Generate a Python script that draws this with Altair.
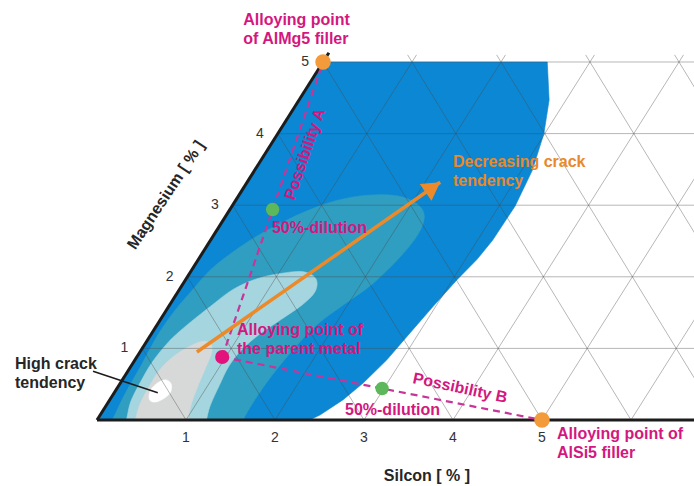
import altair as alt
import pandas as pd

# Skewed composition diagram: Si runs horizontally, Mg along an inclined axis.
SKEW = 45.2 / 89.0            # horizontal shift per 1 % Mg, in % Si units
X_DOMAIN = [-1.09, 6.708]
Y_DOMAIN = [-0.922, 5.866]

FONT = "Liberation Sans"
PINK = "#d4177f"
ORANGE = "#e8892c"
DARK = "#262626"

# ---- crack-sensitivity zones, outlines in (Si %, Mg %) ----
blue_si = [0.0, 0.0, 2.52, 2.81, 2.99, 3.12, 3.18, 3.17, 3.13, 3.05, 2.97, 2.90, 2.83, 2.73, 2.62, 2.47, 2.39]
blue_mg = [0.0, 5.0, 5.0, 4.47, 4.0, 3.49, 2.99, 2.51, 2.24, 1.96, 1.58, 1.22, 0.84, 0.52, 0.28, 0.07, 0.0]

teal_si = [0.16, 0.17, 0.13, 0.11, 0.08, 0.10, 0.15, 0.21, 0.35, 0.53, 0.82, 1.12, 1.45, 1.79, 2.06,
           2.23, 2.29, 2.25, 2.13, 1.96, 1.80, 1.71, 1.65, 1.63, 1.64, 1.67]
teal_mg = [-0.17, 0.0, 0.35, 0.74, 1.19, 1.54, 1.82, 2.10, 2.37, 2.61, 2.88, 3.06, 3.14, 3.13, 3.02,
           2.85, 2.60, 2.28, 1.90, 1.62, 1.34, 1.01, 0.62, 0.28, 0.0, -0.17]

light_si = [0.36, 0.33, 0.25, 0.22, 0.21, 0.25, 0.33, 0.47, 0.60, 0.79, 1.04, 1.27, 1.46, 1.54,
            1.49, 1.36, 1.22, 1.13, 1.10, 1.13, 1.17, 1.23, 1.29]
light_mg = [-0.17, 0.0, 0.25, 0.52, 0.81, 1.09, 1.31, 1.59, 1.82, 1.97, 2.05, 2.07, 1.97, 1.79,
            1.61, 1.41, 1.20, 0.99, 0.75, 0.48, 0.20, 0.0, -0.17]

gray_si = [0.47, 0.43, 0.37, 0.35, 0.35, 0.41, 0.52, 0.63, 0.74, 0.81, 0.85, 0.89, 0.94, 1.02, 1.10]
gray_mg = [-0.17, 0.0, 0.22, 0.45, 0.70, 0.89, 1.03, 1.10, 1.06, 0.94, 0.73, 0.49, 0.25, 0.0, -0.17]

core_si = [0.44, 0.39, 0.42, 0.49, 0.58, 0.63, 0.59, 0.52]
core_mg = [0.29, 0.42, 0.52, 0.56, 0.50, 0.38, 0.29, 0.25]

# ---- alloy compositions ----
parent_si, parent_mg = [0.96], [0.88]
filler_si, filler_mg = [0.0, 5.0], [5.0, 0.0]          # AlMg5, AlSi5
dilution_si, dilution_mg = [0.48, 2.98], [2.94, 0.44]   # 50 % mixes
arrow_si, arrow_mg = [0.64, 2.17], [0.95, 3.32]
leader_si, leader_mg = [-0.39, 0.49], [0.68, 0.38]

si_ticks = [1, 2, 3, 4, 5]
mg_ticks = [1, 2, 3, 4, 5]


def frame(si, mg, **cols):
    df = pd.DataFrame({"si": si, "mg": mg})
    df["X"] = df["si"] + SKEW * df["mg"]
    df["Y"] = df["mg"]
    df["i"] = range(len(df))
    for k, v in cols.items():
        df[k] = v
    return df


xs = alt.Scale(domain=X_DOMAIN, nice=False, zero=False)
ys = alt.Scale(domain=Y_DOMAIN, nice=False, zero=False)


def pos():
    return dict(x=alt.X("X:Q", scale=xs, axis=None), y=alt.Y("Y:Q", scale=ys, axis=None))


def zone(si, mg, color, interp="cardinal-closed"):
    return alt.Chart(frame(si, mg)).mark_line(
        interpolate=interp, fill=color, color=color, strokeWidth=0.6
    ).encode(**pos(), order="i:Q")


layers = [
    zone(blue_si, blue_mg, "#0b87d3", "linear-closed"),
    zone(teal_si, teal_mg, "#2f9ec1"),
    zone(light_si, light_mg, "#a5d5df"),
    zone(gray_si, gray_mg, "#d7d8d8"),
    zone(core_si, core_mg, "#ffffff"),
]

# ---- triangular grid ----
seg_rows = []
sid = 0
for k in range(1, 8):                      # lines parallel to the Mg axis
    seg_rows += [(k, 0.0, sid), (k, 5.1, sid)]
    sid += 1
for m in mg_ticks:                         # constant-Mg lines
    seg_rows += [(0.0, m, sid), (9.0, m, sid)]
    sid += 1
for c in range(1, 11):                     # constant Si+Mg lines
    top = min(c, 5.1)
    seg_rows += [(c, 0.0, sid), (c - top, top, sid)]
    sid += 1
grid = frame([r[0] for r in seg_rows], [r[1] for r in seg_rows], seg=[r[2] for r in seg_rows])
layers.append(
    alt.Chart(grid).mark_line(color="#4a4a4a", strokeOpacity=0.4, strokeWidth=1, clip=True)
    .encode(**pos(), detail="seg:N", order="i:Q")
)

# white band under the Si axis
mask = pd.DataFrame({"x0": [X_DOMAIN[0]], "x1": [X_DOMAIN[1]], "y0": [Y_DOMAIN[0]], "y1": [0.0]})
layers.append(
    alt.Chart(mask).mark_rect(color="white").encode(
        x=alt.X("x0:Q", scale=xs, axis=None), x2="x1:Q",
        y=alt.Y("y0:Q", scale=ys, axis=None), y2="y1:Q")
)

# ---- axes ----
axes = frame([0.0, 9.0, 0.0, 0.0], [0.0, 0.0, 0.0, 5.13], seg=[0, 0, 1, 1])
layers.append(
    alt.Chart(axes).mark_line(color="#1c1c1c", strokeWidth=3, clip=True)
    .encode(**pos(), detail="seg:N", order="i:Q")
)

# ---- dilution paths ----
paths = frame(
    [parent_si[0], filler_si[0], parent_si[0], filler_si[1]],
    [parent_mg[0], filler_mg[0], parent_mg[0], filler_mg[1]],
    seg=[0, 0, 1, 1],
)
layers.append(
    alt.Chart(paths).mark_line(color="#c8349a", strokeWidth=2.2, strokeDash=[7, 5])
    .encode(**pos(), detail="seg:N", order="i:Q")
)

# ---- trend arrow ----
layers.append(
    alt.Chart(frame(arrow_si, arrow_mg)).mark_line(color="#ec8a2a", strokeWidth=3.5)
    .encode(**pos(), order="i:Q")
)
layers.append(
    alt.Chart(frame(arrow_si[1:], arrow_mg[1:])).mark_point(
        shape="triangle-up", filled=True, color="#ec8a2a", opacity=1, size=420, angle=55,
        xOffset=-7.3, yOffset=5.1)
    .encode(**pos())
)

# ---- composition points ----
def dots(si, mg, color, size):
    return alt.Chart(frame(si, mg)).mark_point(filled=True, color=color, opacity=1, size=size).encode(**pos())


layers += [
    dots(filler_si, filler_mg, "#f39b3a", 240),
    dots(dilution_si, dilution_mg, "#5cb85a", 180),
    dots(parent_si, parent_mg, "#e2117c", 200),
]

# leader for the high-crack label
layers.append(
    alt.Chart(frame(leader_si, leader_mg)).mark_line(color="#1c1c1c", strokeWidth=1.6)
    .encode(**pos(), order="i:Q")
)

# ---- tick labels ----
# Si labels sit straight below their tick, so undo the skew of the offset row.
SI_LABEL_MG = -0.25
layers.append(
    alt.Chart(frame([v - SKEW * SI_LABEL_MG for v in si_ticks], [SI_LABEL_MG] * 5,
                    label=[str(v) for v in si_ticks]))
    .mark_text(font=FONT, fontSize=14, color="#333333", align="center", baseline="middle")
    .encode(**pos(), text="label:N")
)
layers.append(
    alt.Chart(frame([-0.2] * 5, mg_ticks, label=[str(v) for v in mg_ticks]))
    .mark_text(font=FONT, fontSize=14, color="#333333", align="center", baseline="middle")
    .encode(**pos(), text="label:N")
)

# ---- annotations ----
annotations = [
    dict(text="Alloying point\nof AlMg5 filler", si=-1.16, mg=5.52, color=PINK),
    dict(text="Possibility A", si=0.45, mg=3.715, color=PINK, align="center", baseline="middle", angle=289),
    dict(text="50%-dilution", si=0.64, mg=2.61, color=PINK),
    dict(text="Decreasing crack\ntendency", si=2.205, mg=3.534, color=ORANGE),
    dict(text="Alloying point of\nthe parent metal", si=0.97, mg=1.187, color=PINK),
    dict(text="High crack\ntendency", si=-1.283, mg=0.712, color=DARK),
    dict(text="Possibility B", si=3.852, mg=0.447, color=PINK, align="center", baseline="middle", angle=12),
    dict(text="50%-dilution", si=2.751, mg=0.07, color=PINK),
    dict(text="Alloying point of\nAlSi5 filler", si=5.303, mg=-0.265, color=PINK),
    dict(text="Silcon [ % ]", si=4.14, mg=-0.852, color=DARK, align="center"),
    dict(text="Magnesium [ % ]", si=-0.821, mg=3.142, color=DARK, align="center", baseline="middle", angle=303.5),
]
for a in annotations:
    kw = dict(font=FONT, fontSize=16, fontWeight="bold", color=a["color"], lineBreak="\n",
              lineHeight=19, align=a.get("align", "left"), baseline=a.get("baseline", "alphabetic"))
    if "angle" in a:
        kw["angle"] = a["angle"]
    layers.append(
        alt.Chart(frame([a["si"]], [a["mg"]], label=[a["text"]]))
        .mark_text(**kw).encode(**pos(), text="label:N")
    )

chart = (
    alt.layer(*layers)
    .properties(width=694, height=486, autosize=alt.AutoSizeParams(type="none"), padding=0,
                background="white")
    .configure_view(strokeWidth=0)
)
chart.save("out.html", embed_options={"renderer": "svg", "actions": False})
